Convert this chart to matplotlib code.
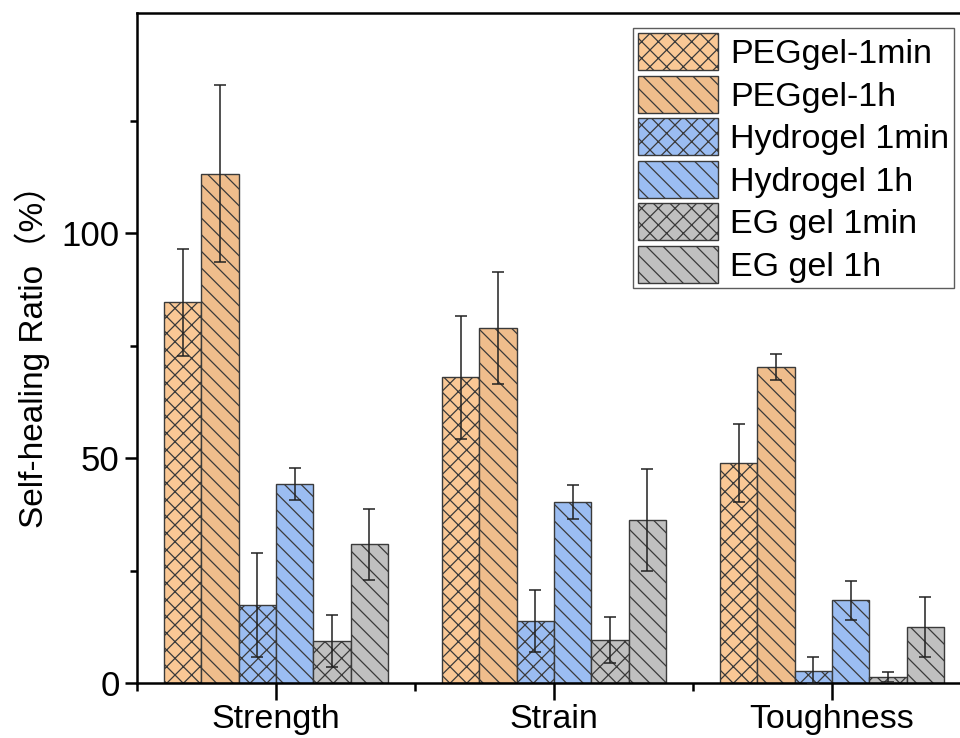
import matplotlib
matplotlib.use("Agg")
import matplotlib.pyplot as plt
import numpy as np

plt.rcParams['font.family'] = ['Liberation Sans', 'Noto Sans CJK SC', 'DejaVu Sans']
plt.rcParams['hatch.linewidth'] = 0.9
plt.rcParams['hatch.color'] = '#1a1a1a'

categories = ['Strength', 'Strain', 'Toughness']
series = ['PEGgel-1min', 'PEGgel-1h', 'Hydrogel 1min', 'Hydrogel 1h', 'EG gel 1min', 'EG gel 1h']

peg_1min = [84.7, 68.0, 48.9]
peg_1h = [113.3, 78.9, 70.2]
hydro_1min = [17.3, 13.8, 2.7]
hydro_1h = [44.2, 40.2, 18.4]
eg_1min = [9.3, 9.6, 1.3]
eg_1h = [30.9, 36.2, 12.4]

peg_1min_err = [11.9, 13.7, 8.6]
peg_1h_err = [19.7, 12.4, 2.9]
hydro_1min_err = [11.5, 6.9, 3.0]
hydro_1h_err = [3.6, 3.8, 4.3]
eg_1min_err = [5.8, 5.1, 1.1]
eg_1h_err = [7.9, 11.3, 6.7]

values = [peg_1min, peg_1h, hydro_1min, hydro_1h, eg_1min, eg_1h]
errors = [peg_1min_err, peg_1h_err, hydro_1min_err, hydro_1h_err, eg_1min_err, eg_1h_err]
colors = ['#FAC895', '#EFBD8C', '#9BBDF2', '#9BBDF2', '#C0C0C0', '#C0C0C0']
hatches = ['xx', '\\\\', 'xx', '\\\\', 'xx', '\\\\']

fig = plt.figure(figsize=(9.6, 7.38), dpi=100)
ax = fig.add_axes([137 / 960, 1 - 683 / 738, 834 / 960, 670 / 738])

x = np.arange(len(categories))
w = 0.1343
for i, (vals, errs) in enumerate(zip(values, errors)):
    pos = x + (i - 2.5) * w
    ax.bar(pos, vals, width=w, color=colors[i], edgecolor='#3a3a3a', linewidth=1.0,
           hatch=hatches[i], label=series[i], zorder=2)
    ax.errorbar(pos, vals, yerr=errs, fmt='none', ecolor='#222222', elinewidth=1.1,
                capsize=4.5, capthick=1.1, zorder=3)

ax.set_xlim(-0.5, 2.5)
ax.set_ylim(0, 149)
ax.set_xticks(x)
ax.set_xticklabels(categories, fontsize=24.5)
ax.set_xticks([-0.5, 0.5, 1.5, 2.5], minor=True)
ax.set_yticks([0, 50, 100])
ax.set_yticks([25, 75, 125], minor=True)
ax.tick_params(axis='y', labelsize=25)
ax.tick_params(which='major', direction='out', length=9, width=1.8)
ax.tick_params(which='minor', direction='out', length=5, width=1.8)
ax.tick_params(axis='x', which='major', length=12, pad=3)
ax.tick_params(axis='x', which='minor', length=6)
for s in ax.spines.values():
    s.set_linewidth(1.8)

ax.set_ylabel('Self-healing Ratio（%）', fontsize=24, labelpad=8)

leg = ax.legend(loc='upper left', bbox_to_anchor=(633 / 960, 1 - 28 / 738),
                bbox_transform=fig.transFigure, borderaxespad=0, fontsize=24.5,
                frameon=True, fancybox=False, edgecolor='#333333',
                handlelength=2.35, handleheight=1.3, handletextpad=0.35,
                labelspacing=0.16, borderpad=0.15)
leg.get_frame().set_linewidth(1.0)

fig.savefig('out.png', dpi=100)
